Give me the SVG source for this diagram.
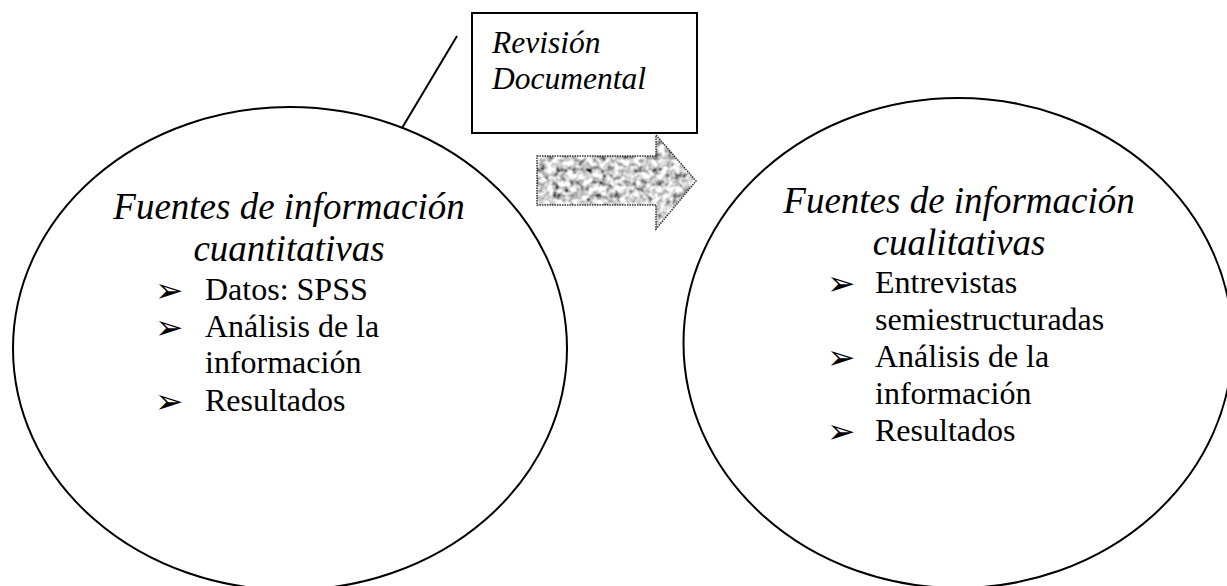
<svg xmlns="http://www.w3.org/2000/svg" width="1227" height="586" viewBox="0 0 1227 586">
<style>
.shape{fill:#ffffff;stroke:#000000;stroke-width:2}
.title{font-family:'Liberation Serif','DejaVu Serif',serif;font-style:italic;font-size:37px;fill:#000000;text-anchor:middle}
.boxt{font-family:'Liberation Serif','DejaVu Serif',serif;font-style:italic;font-size:31.5px;fill:#000000}
.item{font-family:'Liberation Serif','DejaVu Serif',serif;font-size:32px;fill:#000000}
.bul{font-family:'DejaVu Sans',sans-serif;font-size:34px;fill:#000000}
.conn{fill:none;stroke:#000000;stroke-width:2}
</style>
<defs>
<filter id="noise" x="0" y="0" width="1" height="1">
<feTurbulence type="fractalNoise" baseFrequency="0.15" numOctaves="2" seed="11" result="n"/>
<feColorMatrix in="n" type="matrix" values="2.0 0 0 0 -0.36  2.0 0 0 0 -0.36  2.0 0 0 0 -0.36  0 0 0 0 1" result="g"/>
<feComposite in="g" in2="SourceGraphic" operator="in"/>
</filter>
</defs>
<g id="connectors">
<line class="conn" x1="457" y1="36" x2="402" y2="128"/>
</g>
<g id="node-cuantitativas">
<ellipse class="shape" cx="290" cy="348.5" rx="277" ry="241.5"/>
<text class="title" x="289" y="219">Fuentes de información</text>
<text class="title" x="289" y="261">cuantitativas</text>
<text class="bul" x="155" y="302">➢</text>
<text class="item" x="205" y="300">Datos: SPSS</text>
<text class="bul" x="155" y="339">➢</text>
<text class="item" x="205" y="337">Análisis de la</text>
<text class="item" x="205" y="373">información</text>
<text class="bul" x="155" y="413">➢</text>
<text class="item" x="205" y="411">Resultados</text>
</g>
<g id="node-revision">
<rect class="shape" x="472" y="13" width="225" height="120"/>
<text class="boxt" x="492" y="53">Revisión</text>
<text class="boxt" x="492" y="89">Documental</text>
</g>
<g id="node-arrow">
<polygon points="537,156 656,156 656,135 696,181 656,229 656,205 537,205" fill="#999999" filter="url(#noise)"/>
<polygon points="537,156 656,156 656,135 696,181 656,229 656,205 537,205" fill="none" stroke="#333333" stroke-width="1.5" stroke-dasharray="1.5 1"/>
</g>
<g id="node-cualitativas">
<ellipse class="shape" cx="958" cy="343" rx="274.5" ry="245"/>
<text class="title" x="959" y="213">Fuentes de información</text>
<text class="title" x="959" y="255">cualitativas</text>
<text class="bul" x="827" y="295">➢</text>
<text class="item" x="875" y="293">Entrevistas</text>
<text class="item" x="875" y="330">semiestructuradas</text>
<text class="bul" x="827" y="369">➢</text>
<text class="item" x="875" y="367">Análisis de la</text>
<text class="item" x="875" y="404">información</text>
<text class="bul" x="827" y="443">➢</text>
<text class="item" x="875" y="441">Resultados</text>
</g>
</svg>
